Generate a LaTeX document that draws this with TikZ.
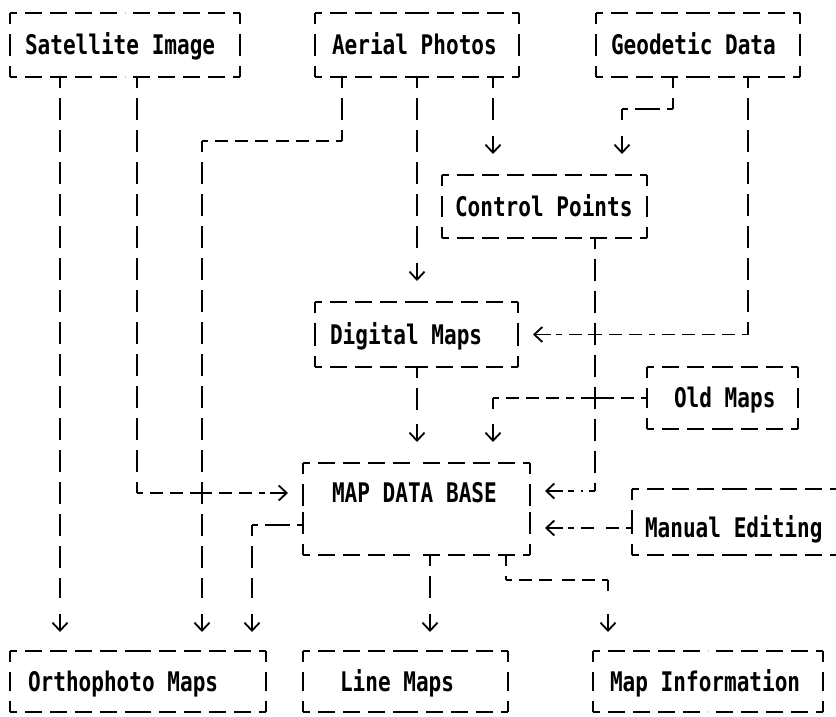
\documentclass[tikz,border=0pt]{standalone}
\usepackage{fontspec}
\newfontfamily\diagfont[FakeStretch=0.78]{DejaVu Sans Mono}
\usetikzlibrary{arrows.meta,calc}
\newcommand\bxt[3]{\makebox[#1pt][l]{\hspace*{#2pt}#3}}
\newcommand\mkdbox[1]{%
  \draw[hedge] (#1.north west) -- (#1.north);
  \draw[hedge] (#1.north east) -- (#1.north);
  \draw[hedge] (#1.south west) -- (#1.south);
  \draw[hedge] (#1.south east) -- (#1.south);
  \draw[vedge] (#1.north west) -- (#1.west);
  \draw[vedge] (#1.south west) -- (#1.west);
  \draw[vedge] (#1.north east) -- (#1.east);
  \draw[vedge] (#1.south east) -- (#1.east);}
\newcommand\hseg[2]{%
  \draw[hconn] (#1) -- ($(#1)!0.5!(#2)$);
  \draw[hconn] (#2) -- ($(#1)!0.5!(#2)$);}
\newcommand\crossat[1]{%
  \draw[crossmark] ([xshift=-7pt]#1) -- ([xshift=7pt]#1);
  \draw[crossmark] ([yshift=-7pt]#1) -- ([yshift=7pt]#1);}
\begin{document}
\begin{tikzpicture}[x=1pt,y=-1pt,line cap=butt,
  box/.style={inner sep=0pt, outer sep=0pt,
    font=\diagfont\bfseries\fontsize{27}{32}\selectfont,
    text height=26.5pt, text depth=6.8pt},
  hedge/.style={line width=1.9pt, dash pattern=on 17pt off 8pt, dash phase=10pt},
  vedge/.style={line width=1.9pt, dash pattern=on 22pt off 10pt, dash phase=11pt},
  vconn/.style={line width=1.9pt, dash pattern=on 22pt off 10pt, dash phase=11pt},
  hconn/.style={line width=1.9pt, dash pattern=on 13pt off 7pt, dash phase=7pt},
  glyph/.style={line width=1.8pt, -{Straight Barb[length=8pt,width=15pt]}},
  crossmark/.style={line width=1.9pt}]
\useasboundingbox (0,0) rectangle (836,717);
\clip (0,0) rectangle (836,717);

% boxes
\node[box, minimum height=64pt] (sat)  at (125,45)    {\bxt{230}{15}{Satellite Image}};
\node[box, minimum height=64pt] (aer)  at (417,45)    {\bxt{204}{17}{Aerial Photos}};
\node[box, minimum height=64pt] (geo)  at (698,45)    {\bxt{204}{15}{Geodetic Data}};
\node[box, minimum height=63pt] (cp)   at (544.5,206.5) {\bxt{205}{13}{Control Points}};
\node[box, minimum height=65pt] (dm)   at (416.5,334.5) {\bxt{203}{15}{Digital Maps}};
\node[box, minimum height=62pt] (old)  at (722.5,398) {\bxt{151}{27}{Old Maps}};
\node[box, minimum height=92pt] (map)  at (416.5,509) {\raisebox{16pt}{\bxt{227}{29}{MAP DATA BASE}}};
\node[box, minimum height=66pt] (me)   at (734.5,522) {\raisebox{-6pt}{\bxt{205}{13}{Manual Editing}}};
\node[box, minimum height=61pt] (orth) at (138,681.5)   {\bxt{256}{18}{Orthophoto Maps}};
\node[box, minimum height=61pt] (line) at (405.5,681.5) {\bxt{205}{37}{Line Maps}};
\node[box, minimum height=61pt] (info) at (708,681.5)   {\bxt{230}{17}{Map Information}};

\foreach \b in {sat,aer,geo,cp,dm,old,map,me,orth,line,info} {\mkdbox{\b}}

% column positions
\coordinate (x60) at (60,0);
\coordinate (x137) at (137,0);
\coordinate (x202) at (202,0);
\coordinate (x252) at (252,0);
\coordinate (x342) at (342,0);
\coordinate (x417) at (417,0);
\coordinate (x430) at (430,0);
\coordinate (x493) at (493,0);
\coordinate (x595) at (595,0);
\coordinate (x622) at (622,0);
\coordinate (x673) at (673,0);
\coordinate (x748) at (748,0);

% Satellite -> Orthophoto
\draw[vconn] (sat.south -| x60) -- ([yshift=53pt]orth.north -| x60);
\draw[glyph] ([yshift=37pt]orth.north -| x60) -- ([yshift=19pt]orth.north -| x60);

% Satellite -> MAP DATA BASE
\coordinate (c1) at (137,493);
\coordinate (c1e) at ([xshift=-38pt]map.west |- c1);
\draw[vconn] (sat.south -| x137) -- (c1);
\hseg{c1}{c1e}
\draw[glyph] ([xshift=-33pt]map.west |- c1) -- ([xshift=-15pt]map.west |- c1);
\coordinate (k1) at (x202 |- c1);
\crossat{k1}

% Aerial -> Orthophoto
\coordinate (c2a) at (342,141);
\coordinate (c2b) at (202,141);
\draw[vconn] (aer.south -| c2a) -- (c2a);
\hseg{c2a}{c2b}
\draw[vconn] (c2b) -- ([yshift=53pt]orth.north -| c2b);
\draw[glyph] ([yshift=37pt]orth.north -| c2b) -- ([yshift=19pt]orth.north -| c2b);

% Aerial -> Digital Maps
\draw[vconn] (aer.south -| x417) -- ([yshift=45pt]dm.north -| x417);
\draw[glyph] ([yshift=39pt]dm.north -| x417) -- ([yshift=21pt]dm.north -| x417);

% Aerial -> Control Points
\draw[vconn] (aer.south -| x493) -- ([yshift=45pt]cp.north -| x493);
\draw[glyph] ([yshift=39pt]cp.north -| x493) -- ([yshift=21pt]cp.north -| x493);

% Geodetic -> Control Points
\coordinate (c3a) at (673,109);
\coordinate (c3b) at (622,109);
\draw[vconn] (geo.south -| c3a) -- (c3a);
\hseg{c3a}{c3b}
\draw[vconn] (c3b) -- ([yshift=45pt]cp.north -| c3b);
\draw[glyph] ([yshift=39pt]cp.north -| c3b) -- ([yshift=21pt]cp.north -| c3b);

% Geodetic -> Digital Maps
\coordinate (c4a) at (x748 |- dm.east);
\coordinate (c4b) at ([xshift=38pt]dm.east);
\draw[vconn] (geo.south -| c4a) -- (c4a);
\hseg{c4a}{c4b}
\draw[glyph] ([xshift=33pt]dm.east) -- ([xshift=15pt]dm.east);
\coordinate (k2) at (x595 |- dm.east);
\crossat{k2}

% Control Points -> MAP DATA BASE
\coordinate (c5a) at (595,491);
\coordinate (c5b) at ([xshift=38pt]map.east |- c5a);
\draw[vconn] (cp.south -| c5a) -- (c5a);
\hseg{c5a}{c5b}
\draw[glyph] ([xshift=33pt]map.east |- c5a) -- ([xshift=15pt]map.east |- c5a);

% Digital Maps -> MAP DATA BASE
\draw[vconn] (dm.south -| x417) -- ([yshift=45pt]map.north -| x417);
\draw[glyph] ([yshift=39pt]map.north -| x417) -- ([yshift=21pt]map.north -| x417);

% Old Maps -> MAP DATA BASE
\coordinate (c6) at (x493 |- old.west);
\hseg{old.west}{c6}
\draw[vconn] (c6) -- ([yshift=45pt]map.north -| c6);
\draw[glyph] ([yshift=39pt]map.north -| c6) -- ([yshift=21pt]map.north -| c6);
\coordinate (k3) at (x595 |- old.west);
\crossat{k3}

% Manual Editing -> MAP DATA BASE
\coordinate (c7e) at ([yshift=-6pt]me.west);
\coordinate (c7) at ([xshift=38pt]map.east |- c7e);
\hseg{c7e}{c7}
\draw[glyph] ([xshift=33pt]map.east |- c7e) -- ([xshift=15pt]map.east |- c7e);

% MAP DATA BASE -> Orthophoto
\coordinate (c8a) at ([yshift=-16pt]map.west);
\coordinate (c8b) at (x252 |- c8a);
\hseg{c8a}{c8b}
\draw[vconn] (c8b) -- ([yshift=53pt]orth.north -| c8b);
\draw[glyph] ([yshift=37pt]orth.north -| c8b) -- ([yshift=19pt]orth.north -| c8b);

% MAP DATA BASE -> Line Maps
\draw[vconn] (map.south -| x430) -- ([yshift=53pt]line.north -| x430);
\draw[glyph] ([yshift=37pt]line.north -| x430) -- ([yshift=19pt]line.north -| x430);

% MAP DATA BASE -> Map Information
\coordinate (c9a) at (506,580);
\coordinate (c9b) at (608,580);
\draw[vconn] (map.south -| c9a) -- (c9a);
\hseg{c9a}{c9b}
\draw[vconn] (c9b) -- ([yshift=53pt]info.north -| c9b);
\draw[glyph] ([yshift=37pt]info.north -| c9b) -- ([yshift=19pt]info.north -| c9b);
\end{tikzpicture}
\end{document}
